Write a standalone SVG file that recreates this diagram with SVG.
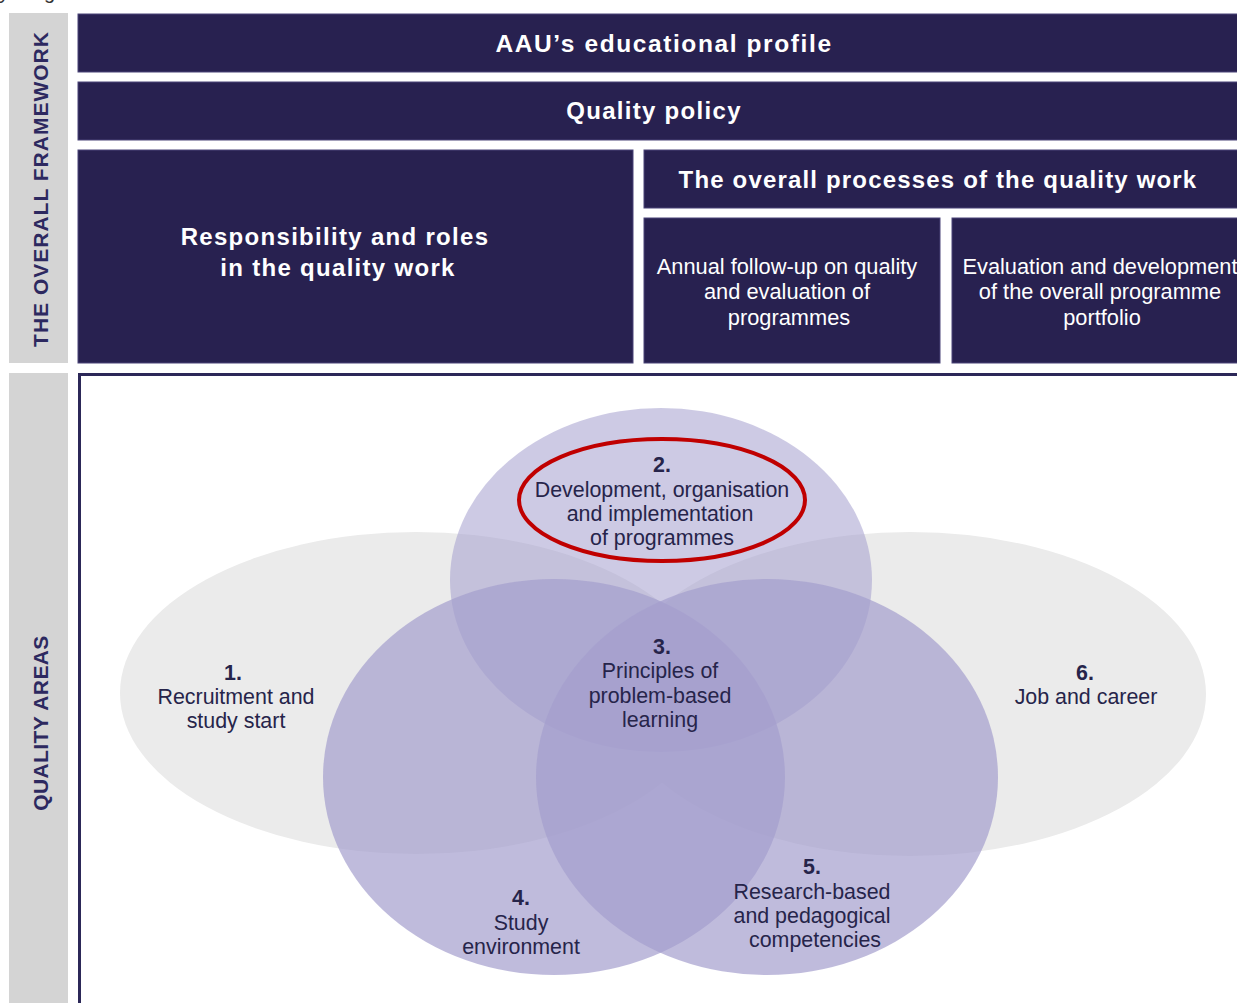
<svg xmlns="http://www.w3.org/2000/svg" width="1237" height="1003" viewBox="0 0 1237 1003">
  <style>
    .dark { fill: #282150; stroke: #4a4578; stroke-width: 1; }
    .side { fill: #d4d4d4; }
    .hd { font-family: "Liberation Sans", Arial, sans-serif; font-weight: bold; fill: #ffffff; text-anchor: middle; font-size: 24px; letter-spacing: 1.3px; }
    .sub { font-family: "Liberation Sans", Arial, sans-serif; fill: #ffffff; text-anchor: middle; font-size: 21.8px; }
    .vt { font-family: "Liberation Sans", Arial, sans-serif; font-weight: bold; fill: #2d2960; text-anchor: middle; font-size: 21px; }
    .qa { font-family: "Liberation Sans", Arial, sans-serif; fill: #26244a; text-anchor: middle; font-size: 21.4px; }
    .num { font-weight: bold; }
    .grey { fill: #ebebeb; }
    .circ { fill: #a49ecd; }
  </style>

  <rect x="0" y="0" width="1237" height="1003" fill="#ffffff"/>

  <g id="fragment" font-family="Liberation Sans, Arial, sans-serif" font-size="20" fill="#333333">
    <text x="-1" y="-1">y</text>
    <text x="44" y="-1">g</text>
  </g>

  <g id="side-framework">
    <rect class="side" x="9" y="13" width="59" height="350"/>
    <text class="vt" transform="translate(48,189) rotate(-90)" letter-spacing="1">THE OVERALL FRAMEWORK</text>
  </g>
  <g id="side-quality">
    <rect class="side" x="9" y="373" width="59" height="640"/>
    <text class="vt" transform="translate(48,723) rotate(-90)" letter-spacing="0.4">QUALITY AREAS</text>
  </g>

  <g id="profile">
    <rect class="dark" x="78" y="14" width="1170" height="58"/>
    <text class="hd" x="664" y="52" style="font-size:24.5px;letter-spacing:1.6px">AAU’s educational profile</text>
  </g>
  <g id="policy">
    <rect class="dark" x="78" y="82" width="1170" height="58"/>
    <text class="hd" x="654" y="119">Quality policy</text>
  </g>
  <g id="responsibility">
    <rect class="dark" x="78" y="150" width="555" height="213"/>
    <text class="hd" x="335" y="245">Responsibility and roles</text>
    <text class="hd" x="338" y="276">in the quality work</text>
  </g>
  <g id="processes">
    <rect class="dark" x="644" y="150" width="604" height="58"/>
    <text class="hd" x="938" y="188" style="letter-spacing:1.17px">The overall processes of the quality work</text>
  </g>
  <g id="annual">
    <rect class="dark" x="644" y="218" width="296" height="145"/>
    <text class="sub" x="787" y="274">Annual follow-up on quality</text>
    <text class="sub" x="787" y="299">and evaluation of</text>
    <text class="sub" x="789" y="325">programmes</text>
  </g>
  <g id="evaluation">
    <rect class="dark" x="952" y="218" width="296" height="145"/>
    <text class="sub" x="1100" y="274">Evaluation and development</text>
    <text class="sub" x="1100" y="299">of the overall programme</text>
    <text class="sub" x="1102" y="325">portfolio</text>
  </g>

  <g id="quality-areas">
    <rect x="79.5" y="374.5" width="1180" height="640" fill="#ffffff" stroke="#2c2858" stroke-width="3"/>
  </g>

  <g id="area-1">
    <ellipse class="grey" cx="416" cy="693" rx="296" ry="161"/>
  </g>
  <g id="area-6">
    <ellipse class="grey" cx="910" cy="694" rx="296" ry="162"/>
  </g>
  <g id="area-2">
    <ellipse class="circ" cx="661" cy="580" rx="211" ry="172" opacity="0.55"/>
  </g>
  <g id="area-4">
    <ellipse class="circ" cx="554" cy="777" rx="231" ry="198" opacity="0.7"/>
  </g>
  <g id="area-5">
    <ellipse class="circ" cx="767" cy="777" rx="231" ry="198" opacity="0.7"/>
  </g>

  <g id="labels">
    <text class="qa num" x="233" y="680">1.</text>
    <text class="qa" x="236" y="704">Recruitment and</text>
    <text class="qa" x="236" y="728">study start</text>

    <text class="qa num" x="662" y="472">2.</text>
    <text class="qa" x="662" y="497">Development, organisation</text>
    <text class="qa" x="660" y="521">and implementation</text>
    <text class="qa" x="662" y="545">of programmes</text>

    <text class="qa num" x="662" y="654">3.</text>
    <text class="qa" x="660" y="678">Principles of</text>
    <text class="qa" x="660" y="703">problem-based</text>
    <text class="qa" x="660" y="727">learning</text>

    <text class="qa num" x="1085" y="680">6.</text>
    <text class="qa" x="1086" y="704">Job and career</text>

    <text class="qa num" x="521" y="905">4.</text>
    <text class="qa" x="521" y="930">Study</text>
    <text class="qa" x="521" y="954">environment</text>

    <text class="qa num" x="812" y="874">5.</text>
    <text class="qa" x="812" y="899">Research-based</text>
    <text class="qa" x="812" y="923">and pedagogical</text>
    <text class="qa" x="815" y="947">competencies</text>
  </g>

  <g id="highlight">
    <ellipse cx="662" cy="500" rx="143" ry="61" fill="none" stroke="#c00000" stroke-width="4"/>
  </g>
</svg>
